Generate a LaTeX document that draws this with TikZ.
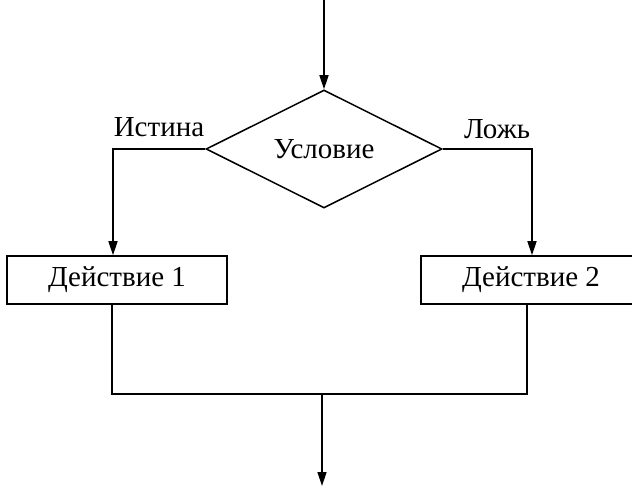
\documentclass[tikz,border=0pt]{standalone}
\usepackage{fontspec}
\setmainfont{Liberation Serif}
\usetikzlibrary{shapes.geometric,arrows.meta}
\begin{document}
\begin{tikzpicture}[x=1pt,y=-1pt,
  line width=1.5pt,
  every node/.style={font=\fontsize{29}{34}\selectfont},
  arr/.style={-{Triangle[length=14pt,width=9pt]}},
  cond/.style={draw,diamond,minimum width=236pt,minimum height=118pt,inner sep=0pt,shape aspect=2},
  actbox/.style={draw,rectangle,minimum width=220pt,minimum height=48pt,inner sep=0pt},
  lbl/.style={inner sep=0pt}]
\useasboundingbox (0,0) rectangle (632,486);
\clip (0,0) rectangle (632,486);
\fill[white] (0,0) rectangle (632,486);
\node[cond] (d) at (324,149) {Условие};
\node[actbox] (b1) at (117,280) {Действие 1};
\node[actbox] (b2) at (531,280) {Действие 2};
\node[lbl] (ist) at (159,127) {Истина};
\node[lbl] (lozh) at (497,129) {Ложь};
\coordinate (top) at (324,0);
\coordinate (l) at (113,149);
\coordinate (r) at (532,149);
\coordinate (j1) at (112,394);
\coordinate (j2) at (527,394);
\coordinate (m) at (322,394);
\coordinate (e) at (322,486);
\draw[arr] (top) -- (d.north);
\draw[arr] (d.west) -- (l) -- (l |- b1.north);
\draw[arr] (d.east) -- (r) -- (r |- b2.north);
\draw (b1.south -| j1) -- (j1) -- (j2) -- (b2.south -| j2);
\draw[arr] (m) -- (e);
\end{tikzpicture}
\end{document}
